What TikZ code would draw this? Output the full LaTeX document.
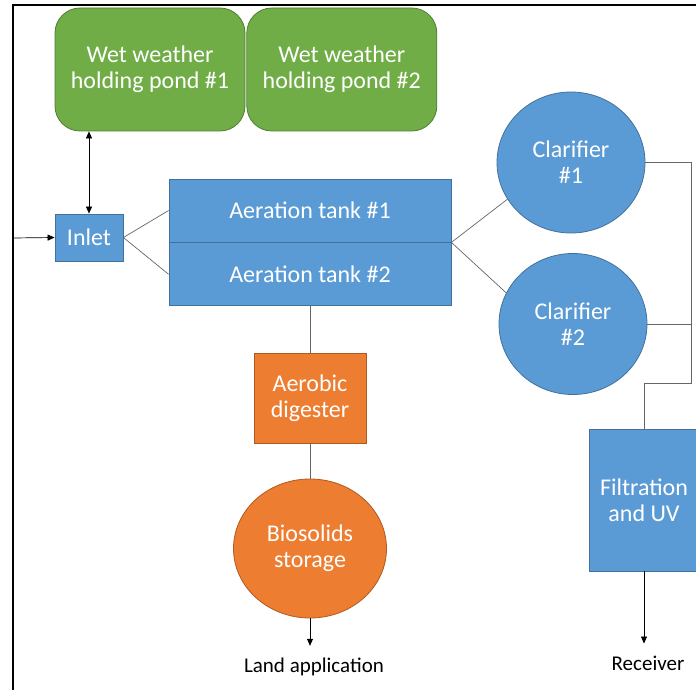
\documentclass[tikz,border=0pt]{standalone}
\usepackage{fontspec}
\setmainfont{Carlito}
\usepackage{tikz}
\usetikzlibrary{arrows.meta,calc,positioning,shapes}

\definecolor{pondgreen}{HTML}{70AD47}
\definecolor{pondedge}{HTML}{507E32}
\definecolor{tankblue}{HTML}{5B9BD5}
\definecolor{tankedge}{HTML}{41719C}
\definecolor{sludgeorange}{HTML}{ED7D31}
\definecolor{sludgeedge}{HTML}{AE5A21}

\begin{document}
\begin{tikzpicture}[x=1pt, y=-1pt, node distance=1pt,
					every node/.style={
						font=\fontsize{24}{26}\selectfont,
						align=center, inner sep=0pt
					},
					pond/.style={draw=pondedge, fill=pondgreen, text=white, line width=.8pt,
						rounded corners=25pt, minimum width=190pt, minimum height=123pt},
					unit/.style={draw=tankedge, fill=tankblue, text=white, line width=.8pt},
					sludge/.style={draw=sludgeedge, fill=sludgeorange, text=white, line width=.8pt},
					outlet/.style={font=\fontsize{21}{24}\selectfont, text=black},
					pipe/.style={draw=black!60, line width=.7pt},
					flow/.style={draw=black, line width=.7pt, -{Triangle[length=7pt,width=6pt]}}
				]
				\useasboundingbox (0,0) rectangle (696,690);
				\draw[line width=2.5pt] (13,692) -- (13,5) -- (700,5);

				\node[pond] (pondA) at (150,69.5) {Wet weather\\holding pond \#1};
				\node[pond] (pondB) [right=of pondA] {Wet weather\\holding pond \#2};
				\node[unit, minimum width=68pt, minimum height=47pt] (inlet) at (89,237.5) {Inlet};
				\coordinate (feed) at (13,238);

				\node[unit, minimum width=282pt, minimum height=63pt] (tankA) at (310,210.5) {Aeration tank \#1};
				\node[unit, minimum width=282pt, minimum height=63pt] (tankB) [below=0pt of tankA] {Aeration tank \#2};

				\node[unit, ellipse, minimum width=148pt, minimum height=141pt] (clarA) at (571,162.5) {Clarifier\\\#1};
				\node[unit, ellipse, minimum width=148pt, minimum height=141pt] (clarB) at (573,324) {Clarifier\\\#2};
				\coordinate (riser) at (691,383);
				\node[unit, minimum width=110pt, minimum height=142pt] (filter) at (644,500) {Filtration\\and UV};
				\node[outlet] (recv) at (648,663) {Receiver};

				\node[sludge, minimum width=112pt, minimum height=90pt] (digest) at (310,398) {Aerobic\\digester};
				\node[sludge, ellipse, minimum width=153pt, minimum height=139pt] (bio) at (310,548.5) {Biosolids\\storage};
				\node[outlet] (land) at (314,667) {Land application};

				\draw[flow] (feed) -- (inlet.west);
				\draw[flow, {Triangle[length=7pt,width=6pt]}-{Triangle[length=7pt,width=6pt]}]
					(inlet.north |- pondA.south) -- (inlet.north);
				\draw[pipe] (inlet.east) edge (tankA.west) edge (tankB.west)
					(tankA.south east) edge (clarA.210) edge (clarB.155);
				\draw[pipe] (clarA.east) -| (riser) -| (filter.north)
					(clarB.east) -- (clarB.east -| riser);
				\draw[flow] (filter.south) -- ($(filter.south |- recv.north)+(0,-12)$);
				\draw[pipe] (tankB.south) -- (digest.north)
					(digest.south) -- (bio.north);
				\draw[flow] (bio.south) -- ($(bio.south |- land.north)+(0,-12)$);
			\end{tikzpicture}
\end{document}
